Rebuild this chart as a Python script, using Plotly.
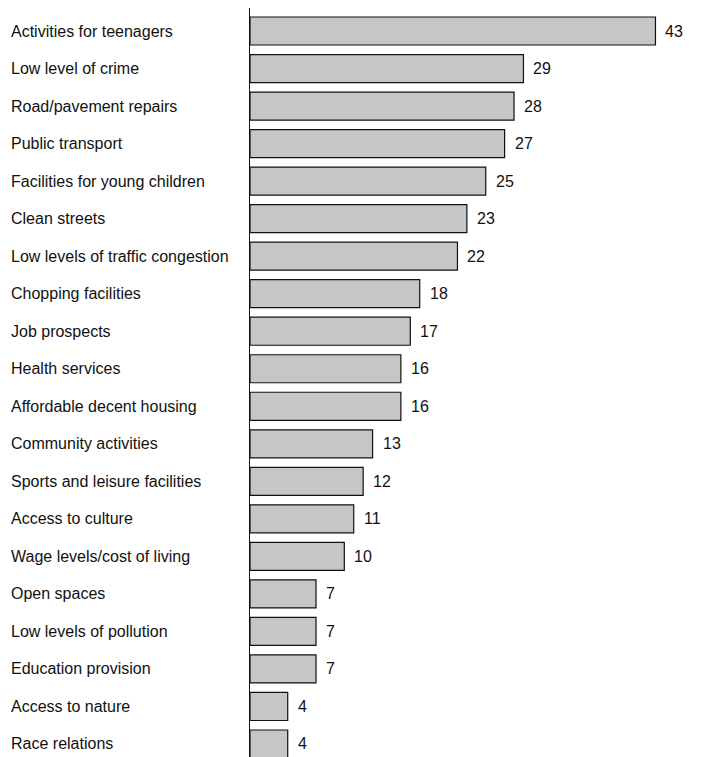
import plotly.graph_objects as go

categories = [
    "Activities for teenagers", "Low level of crime", "Road/pavement repairs",
    "Public transport", "Facilities for young children", "Clean streets",
    "Low levels of traffic congestion", "Chopping facilities", "Job prospects",
    "Health services", "Affordable decent housing", "Community activities",
    "Sports and leisure facilities", "Access to culture", "Wage levels/cost of living",
    "Open spaces", "Low levels of pollution", "Education provision",
    "Access to nature", "Race relations",
]
values = [43, 29, 28, 27, 25, 23, 22, 18, 17, 16, 16, 13, 12, 11, 10, 7, 7, 7, 4, 4]

W, H = 701, 757
L, T = 249.5, 8
plot_w = W - L
plot_h = H - T
px_per_unit = 9.44
row_h = 37.5

fig = go.Figure(go.Bar(
    x=values, y=categories, orientation="h",
    marker=dict(color="#c6c6c6", line=dict(color="#111111", width=1.2)),
    width=28 / row_h,
    hoverinfo="skip",
))

font = dict(family="Liberation Sans, Arial, sans-serif", size=16, color="#111111")

annotations = []
for c, v in zip(categories, values):
    annotations.append(dict(x=0, y=c, xref="paper", yref="y", text=c, showarrow=False,
                            xanchor="left", yanchor="middle",
                            xshift=8 - L, font=font))
    annotations.append(dict(x=v, y=c, xref="x", yref="y", text=str(v), showarrow=False,
                            xanchor="left", yanchor="middle", xshift=8, font=font))

top_units = 0.5 + (12.25 - T) / row_h
bottom_units = len(categories) - 1 + (H - 744) / row_h

fig.update_layout(
    width=W, height=H,
    margin=dict(l=L, r=0, t=T, b=0, pad=0),
    plot_bgcolor="white", paper_bgcolor="white",
    showlegend=False,
    annotations=annotations,
    xaxis=dict(range=[0, plot_w / px_per_unit], showgrid=False, zeroline=False,
               showticklabels=False, ticks="", showline=False, fixedrange=True),
    yaxis=dict(type="category", range=[bottom_units, -top_units], showgrid=False,
               zeroline=False, showticklabels=False, ticks="", showline=True,
               linecolor="#111111", linewidth=1.2, fixedrange=True),
)

fig.write_html("out.html", config={"displayModeBar": False},
               post_script="document.body.style.margin='0';document.body.style.overflow='hidden';")
